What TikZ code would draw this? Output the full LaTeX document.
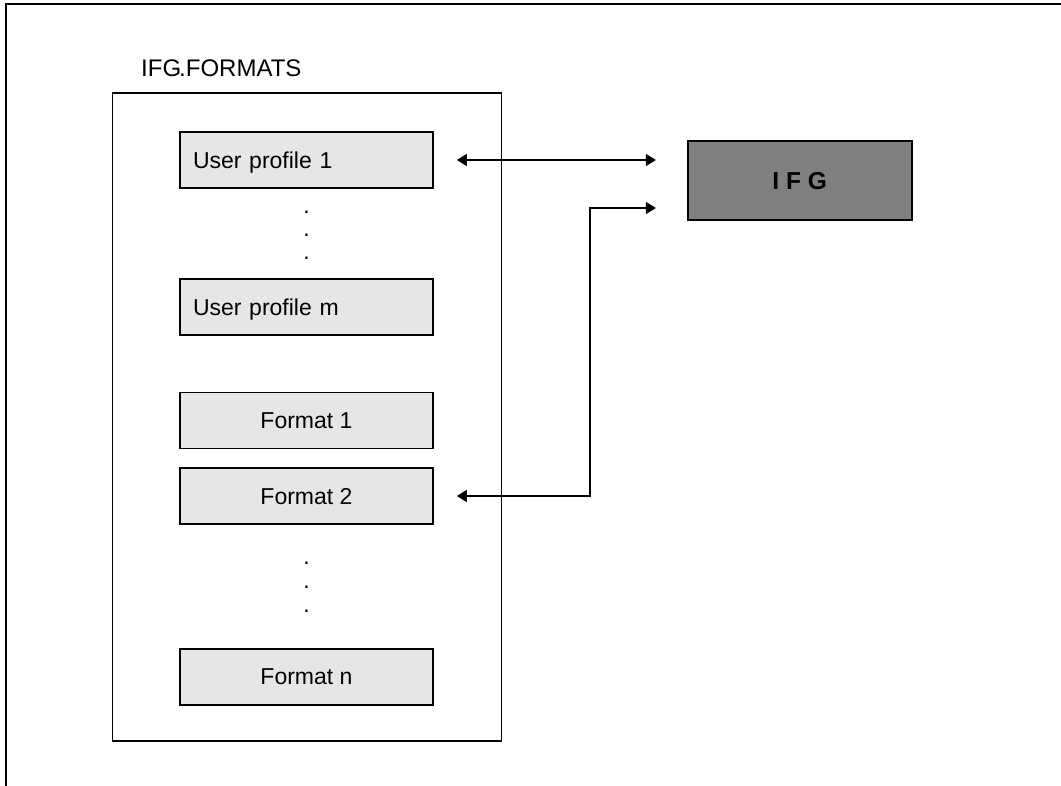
\documentclass[tikz,border=0pt]{standalone}
\usepackage{fontspec}
\setmainfont{Liberation Sans}
\usetikzlibrary{arrows.meta}
\definecolor{boxgray}{HTML}{E6E6E6}
\definecolor{ifggray}{HTML}{808080}
\tikzset{
  line/.style={line width=1.6pt},
  entry/.style={line, draw=black, fill=boxgray, minimum width=253pt, minimum height=56pt,
    inner sep=0pt, text depth=0pt, font=\fontsize{23}{27}\selectfont},
  profile/.style={entry, text width=227pt, inner xsep=13pt, align=left},
  format/.style={entry, align=center},
  dot/.style={anchor=base, inner sep=0pt, font=\fontsize{23}{27}\selectfont},
  link/.style={line, {Triangle[length=10pt,width=12pt]}-{Triangle[length=10pt,width=12pt]}},
}
\begin{document}
\begin{tikzpicture}[x=1pt, y=-1pt]
\useasboundingbox (0,0) rectangle (1061,786);
% page frame: top and left rules only
\coordinate (frameTL) at (6,4);
\coordinate (frameTR) at (1061,4);
\coordinate (frameBL) at (6,786);
\draw[line] (frameTR) -- (frameTL) -- (frameBL);

% library title and container
\node[anchor=base west, inner sep=0pt, font=\fontsize{24}{28}\selectfont] (title) at (141,77) {IFG\kern-2pt.FORMATS};
\draw[line] (112.5,93) rectangle (501.5,741);

% entries
\node[profile] (up1) at (306.5,160) {User profile 1};
\node[dot] (d1) at (306.5,214) {.};
\node[dot] (d2) at (306.5,237) {.};
\node[dot] (d3) at (306.5,260) {.};
\node[profile] (upm) at (306.5,307) {User profile m};
\node[format] (f1) at (306.5,420.5) {Format 1};
\node[format] (f2) at (306.5,496) {Format 2};
\node[dot] (d4) at (306.5,564) {.};
\node[dot] (d5) at (306.5,588) {.};
\node[dot] (d6) at (306.5,612) {.};
\node[format] (fn) at (306.5,677) {Format n};

% IFG box
\node[line, draw=black, fill=ifggray, minimum width=224pt, minimum height=79pt, inner sep=0pt,
  text depth=0pt, font=\fontsize{24.5}{28}\selectfont\bfseries] (ifg) at (799.7,180.5) {I F G};

% connectors
\draw[link, shorten <=23pt, shorten >=31pt] (up1.east) -- (up1.east -| ifg.west);
\coordinate (elbow) at (590,208);
\draw[link, shorten <=23pt, shorten >=31pt] (f2.east) -| (elbow) -- (elbow -| ifg.west);
\end{tikzpicture}
\end{document}
